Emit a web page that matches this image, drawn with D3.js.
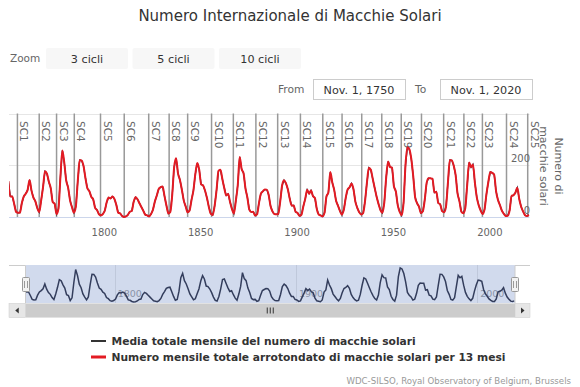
<!DOCTYPE html>
<html><head><meta charset="utf-8">
<script src="https://cdn.jsdelivr.net/npm/d3@7"></script>
<style>
html,body{margin:0;padding:0;background:#fff;}
svg{display:block;font-family:"DejaVu Sans",Verdana,sans-serif;}
</style></head><body>
<svg id="chart" width="580" height="387"></svg>
<script>
// ---------------- DATA ----------------
const firstYear = 1750;
// yearly mean total sunspot number, 1750 .. 2020
const sunspots = [
139.0,79.5,79.7,51.2,20.3,16.0,17.0,54.0,79.3,90.0,
104.8,143.2,102.0,75.2,60.7,34.8,19.0,63.0,116.3,176.8,
168.0,136.0,110.8,58.0,51.0,11.7,33.0,154.2,257.3,209.8,
141.3,113.5,64.2,38.0,17.0,40.2,138.2,220.0,218.2,196.8,
149.8,111.0,100.0,78.2,68.3,35.5,26.7,10.7,6.8,11.3,
24.2,56.7,75.0,71.8,79.2,70.3,46.8,16.8,13.5,4.2,
0.0,2.3,8.3,20.3,23.2,59.0,76.3,68.3,52.9,38.5,
24.2,9.2,6.3,2.2,11.4,28.2,59.9,83.0,108.5,115.2,
117.4,80.8,44.3,13.4,19.5,85.8,192.7,227.3,168.7,143.0,
105.5,63.3,40.3,18.1,25.1,65.8,102.7,166.3,208.3,182.5,
126.3,122.0,102.7,74.1,39.0,12.7,8.2,43.4,104.4,178.3,
182.2,146.6,112.1,83.5,89.2,57.8,30.7,13.9,62.8,123.6,
232.0,185.3,169.2,110.1,74.5,28.3,18.9,20.7,5.7,10.0,
53.7,90.5,99.0,106.1,105.8,86.3,42.4,21.8,11.2,10.4,
11.8,59.5,121.7,142.0,130.0,106.6,69.4,43.8,44.4,20.2,
15.7,4.6,8.5,40.8,70.1,105.5,90.1,102.8,80.9,73.2,
30.9,9.5,6.0,2.4,16.1,79.0,95.0,173.6,134.6,105.7,
62.7,43.5,23.7,9.7,27.9,74.0,106.5,114.7,129.7,108.2,
59.4,35.1,18.6,9.2,14.6,60.2,132.8,190.6,182.6,148.0,
113.0,79.2,50.8,27.1,16.1,55.3,154.3,214.7,193.0,190.7,
118.9,98.3,45.0,20.1,6.6,54.2,200.7,269.3,261.7,225.1,
159.0,76.4,53.4,39.9,15.0,22.0,66.8,132.9,150.0,149.4,
148.0,94.4,97.6,54.1,49.2,22.5,18.4,39.3,131.0,220.1,
218.9,198.9,162.4,91.0,60.5,20.6,14.8,33.9,123.0,211.1,
191.8,203.3,133.0,76.1,44.9,25.1,11.6,28.9,88.3,136.3,
173.9,170.4,163.6,99.3,65.3,45.8,24.7,12.6,4.2,4.8,
24.9,80.8,84.5,94.0,113.3,69.8,39.8,21.7,7.0,3.6,
8.8
];
const cycleNames = ["SC1","SC2","SC3","SC4","SC5","SC6","SC7","SC8","SC9","SC10","SC11","SC12","SC13",
  "SC14","SC15","SC16","SC17","SC18","SC19","SC20","SC21","SC22","SC23","SC24","SC25"];
const cycleStarts = [1755.2,1766.5,1775.5,1784.7,1798.3,1810.6,1823.3,1833.9,1843.5,1855.9,1867.2,1878.9,1890.2,
  1902.0,1913.6,1923.6,1933.8,1944.2,1954.3,1964.8,1976.3,1986.8,1996.4,2008.9,2019.9];
const xTicks = [1800,1850,1900,1950,2000];
const yGrid = [200,400];
const yLabels = [0,200];
const navTicks = [1800,1900,2000];
const zoomButtons = ["3 cicli","5 cicli","10 cicli"];
const rangeFrom = "Nov. 1, 1750";
const rangeTo = "Nov. 1, 2020";
const xExtent = [1750.83, 2020.83];
const seriesNames = ["Media totale mensile del numero di macchie solari",
  "Numero mensile totale arrotondato di macchie solari per 13 mesi"];

// ---------------- DRAW ----------------
const data = sunspots.map((v,i)=>({t:firstYear+i+0.5, v}));
const svg = d3.select("#chart");
const RED = "#e31b23", DARK = "#1f2340";

const L=9, R=529.5, T=113.5, B=217;
const x = d3.scaleLinear(xExtent,[L,R]);
const y = d3.scaleLinear([0,400],[B,T]);

const defs = svg.append("defs");
defs.append("clipPath").attr("id","clipMain").append("rect")
  .attr("x",L).attr("y",100).attr("width",R-L).attr("height",B-100+2);

// title
svg.append("text").attr("x",290).attr("y",21).attr("text-anchor","middle")
  .attr("font-size",15).attr("fill","#333").text("Numero Internazionale di Macchie Solari");

// range selector
svg.append("text").attr("x",10).attr("y",62).attr("font-size",10.5).attr("fill","#666").text("Zoom");
const bx = [46,132.5,219];
const zb = svg.append("g").selectAll("g").data(zoomButtons).join("g")
  .attr("transform",(d,i)=>`translate(${bx[i]},48)`);
zb.append("rect").attr("width",82).attr("height",21).attr("rx",2).attr("fill","#f7f7f7");
zb.append("text").attr("x",41).attr("y",14.5).attr("text-anchor","middle")
  .attr("font-size",11.2).attr("fill","#333").text(d=>d);

svg.append("text").attr("x",278).attr("y",93).attr("font-size",10.7).attr("fill","#666").text("From");
svg.append("text").attr("x",415).attr("y",93).attr("font-size",10.7).attr("fill","#666").text("To");
[[313,rangeFrom],[440,rangeTo]].forEach(([bx0,t])=>{
  svg.append("rect").attr("x",bx0+0.5).attr("y",79.5).attr("width",92).attr("height",20)
    .attr("fill","#fff").attr("stroke","#ccc");
  svg.append("text").attr("x",bx0+46).attr("y",93.5).attr("text-anchor","middle")
    .attr("font-size",11.2).attr("fill","#333").text(t);
});

// grid
svg.append("g").selectAll("line").data(yGrid).join("line")
  .attr("x1",L).attr("x2",R).attr("y1",d=>Math.round(y(d))+0.5).attr("y2",d=>Math.round(y(d))+0.5)
  .attr("stroke","#e6e6e6");

// cycle plot lines
const cyc = svg.append("g");
cyc.selectAll("line").data(cycleStarts).join("line")
  .attr("x1",d=>x(d)).attr("x2",d=>x(d)).attr("y1",T).attr("y2",B)
  .attr("stroke","#999").attr("stroke-width",1.5);
cyc.selectAll("text").data(cycleStarts).join("text")
  .attr("transform",d=>`translate(${x(d)+3},121) rotate(90)`)
  .attr("font-size",10.5).attr("fill","#666").text((d,i)=>cycleNames[i]);

// x axis
svg.append("line").attr("x1",L).attr("x2",R).attr("y1",B+0.5).attr("y2",B+0.5).attr("stroke","#ccd6eb");
const xa = svg.append("g").attr("transform",`translate(0,${B})`)
  .call(d3.axisBottom(x).tickValues(xTicks).tickSize(0).tickPadding(12).tickFormat(d3.format("d")));
xa.select(".domain").remove();
xa.selectAll("text").attr("font-size",10).attr("fill","#666").attr("font-family","DejaVu Sans");

// series
const gS = svg.append("g").attr("clip-path","url(#clipMain)");
gS.append("path").datum(data)
  .attr("d",d3.line().x(d=>x(d.t)).y(d=>y(d.v)))
  .attr("fill","none").attr("stroke",DARK).attr("stroke-width",1.3);
gS.append("path").datum(data)
  .attr("d",d3.line().x(d=>x(d.t)).y(d=>y(d.v)).curve(d3.curveMonotoneX))
  .attr("fill","none").attr("stroke",RED).attr("stroke-width",2);

// y labels
svg.append("g").selectAll("text").data(yLabels).join("text")
  .attr("x",530).attr("y",d=>y(d)-3).attr("text-anchor","end")
  .attr("font-size",10).attr("fill","#666").text(d=>d);

// y axis title
const yt = svg.append("text").attr("transform","translate(555,166) rotate(90)")
  .attr("text-anchor","middle").attr("font-size",11).attr("fill","#666");
yt.append("tspan").attr("x",0).attr("dy",0).text("Numero di");
yt.append("tspan").attr("x",0).attr("dy",15).text("macchie solari");

// ---------------- NAVIGATOR ----------------
const NT=265, NB=303;
const x2 = d3.scaleLinear(xExtent,[25.5,515]);
const y2 = d3.scaleLinear([0,d3.max(sunspots)],[302,268]);
defs.append("clipPath").attr("id","clipNav").append("rect")
  .attr("x",x2.range()[0]).attr("y",NT).attr("width",x2.range()[1]-x2.range()[0]).attr("height",NB-NT);

svg.append("g").selectAll("line").data(navTicks).join("line")
  .attr("x1",d=>Math.round(x2(d))+0.5).attr("x2",d=>Math.round(x2(d))+0.5)
  .attr("y1",NT).attr("y2",NB).attr("stroke","#e6e6e6");
svg.append("g").selectAll("text").data(navTicks).join("text")
  .attr("x",d=>x2(d)+3).attr("y",297).attr("font-size",9.5).attr("fill","#999").text(d=>d);

svg.append("rect").attr("x",x2.range()[0]).attr("y",NT).attr("width",x2.range()[1]-x2.range()[0])
  .attr("height",NB-NT).attr("fill","rgba(102,133,194,0.3)");

svg.append("g").attr("clip-path","url(#clipNav)").append("path").datum(data)
  .attr("d",d3.line().x(d=>x2(d.t)).y(d=>y2(d.v)))
  .attr("fill","none").attr("stroke","#333d5c").attr("stroke-width",1.5);

// outline
svg.append("path")
  .attr("d",`M9,${NT+0.5}H${x2.range()[0]}V${NB}M${x2.range()[1]},${NB}V${NT+0.5}H530`)
  .attr("fill","none").attr("stroke","#ccc");

// handles
x2.range().forEach(hx=>{
  const g = svg.append("g").attr("transform",`translate(${Math.round(hx)},277)`);
  g.append("rect").attr("x",-3.5).attr("y",0.5).attr("width",7).attr("height",14).attr("rx",1)
    .attr("fill","#f2f2f2").attr("stroke","#999");
  g.append("path").attr("d","M-1.5,4V11M1.5,4V11").attr("stroke","#999");
});

// scrollbar
const SY=303.5, SH=14;
svg.append("rect").attr("x",9).attr("y",SY).attr("width",521).attr("height",SH).attr("fill","#f2f2f2");
svg.append("rect").attr("x",x2.range()[0]).attr("y",SY).attr("width",x2.range()[1]-x2.range()[0])
  .attr("height",SH).attr("fill","#cccccc");
const cx = (x2.range()[0]+x2.range()[1])/2;
svg.append("path").attr("d",`M${cx-3},${SY+4}V${SY+10}M${cx},${SY+4}V${SY+10}M${cx+3},${SY+4}V${SY+10}`)
  .attr("stroke","#333").attr("stroke-width",1);
[[9,16.5,-1],[515,15,1]].forEach(([bx0,w,dir])=>{
  svg.append("rect").attr("x",bx0).attr("y",SY).attr("width",w).attr("height",SH)
    .attr("fill","#e6e6e6").attr("stroke","#ccc").attr("stroke-width",0.5);
  const mx = bx0+w/2, my = SY+SH/2;
  svg.append("path").attr("d",`M${mx+dir*2},${my}L${mx-dir*1.5},${my-3}L${mx-dir*1.5},${my+3}Z`).attr("fill","#333");
});

// ---------------- LEGEND ----------------
const lg = svg.append("g").selectAll("g").data(seriesNames).join("g")
  .attr("transform",(d,i)=>`translate(91,${341+i*16})`);
lg.append("line").attr("x1",0).attr("x2",15).attr("y1",0).attr("y2",0)
  .attr("stroke",(d,i)=>i?RED:"#333").attr("stroke-width",(d,i)=>i?3:2);
lg.append("text").attr("x",20.5).attr("y",4).attr("font-size",10.7).attr("font-weight","bold")
  .attr("fill","#333").text(d=>d);

// credits
svg.append("text").attr("x",571).attr("y",384).attr("text-anchor","end").attr("font-size",8.6)
  .attr("fill","#999").text("WDC-SILSO, Royal Observatory of Belgium, Brussels");
</script>
</body></html>
